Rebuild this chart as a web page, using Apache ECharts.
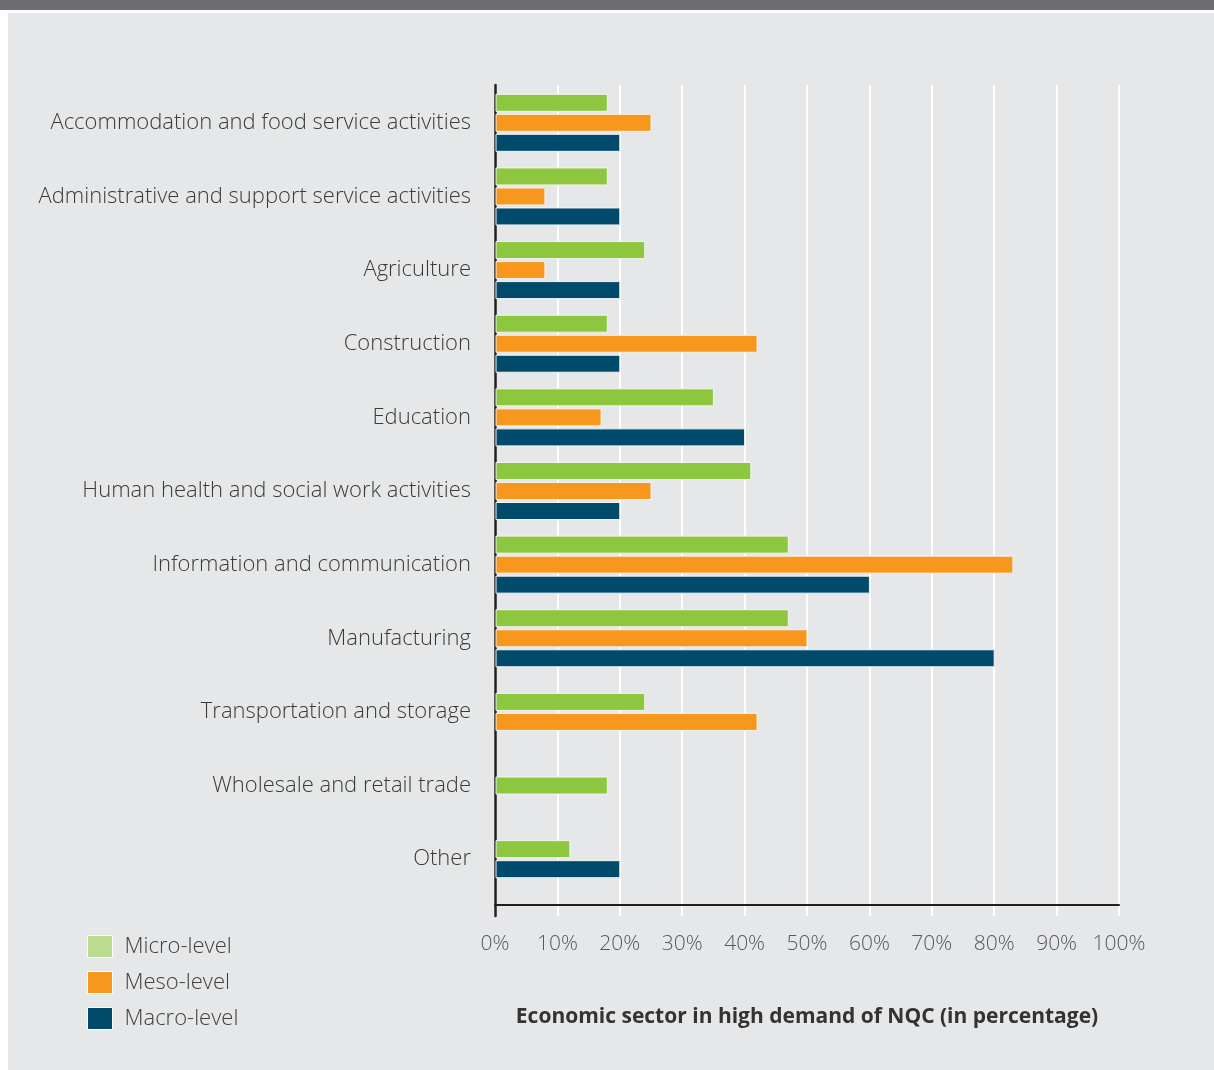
<!DOCTYPE html>
<html>
<head>
<meta charset="utf-8">
<script src="https://cdn.jsdelivr.net/npm/echarts@6/dist/echarts.min.js"></script>
<style>
  html, body { margin: 0; padding: 0; background: #ffffff; }
  #topbar { position: absolute; left: 0; top: 0; width: 1214px; height: 10px; background: #6b6d71; }
  #panel { position: absolute; left: 8px; top: 13px; width: 1206px; height: 1057px; background: #e6e7e8; }
  #chart { position: absolute; left: 0; top: 0; width: 1214px; height: 1070px; }
</style>
</head>
<body>
<div id="topbar"></div>
<div id="panel"></div>
<div id="chart"></div>
<script>
const categories = [
  'Accommodation and food service activities',
  'Administrative and support service activities',
  'Agriculture',
  'Construction',
  'Education',
  'Human health and social work activities',
  'Information and communication',
  'Manufacturing',
  'Transportation and storage',
  'Wholesale and retail trade',
  'Other'
];
const seriesNames = ['Micro-level', 'Meso-level', 'Macro-level'];
const microLevel = [18, 18, 24, 18, 35, 41, 47, 47, 24, 18, 12];
const mesoLevel  = [25, 8, 8, 42, 17, 25, 83, 50, 42, null, null];
const macroLevel = [20, 20, 20, 20, 40, 20, 60, 80, null, null, 20];
const xTickValues = [0, 10, 20, 30, 40, 50, 60, 70, 80, 90, 100];

const allSeries = [microLevel, mesoLevel, macroLevel];
const barColors = ['#8dc63f', '#f7971e', '#004b6c'];
const legendColors = ['#b9dc8f', '#f7971e', '#004b6c'];
const FONT = '"Open Sans", "Noto Sans", sans-serif';

const chart = echarts.init(document.getElementById('chart'), null, { renderer: 'canvas' });

function makeRender(sIdx) {
  return function (params, api) {
    const i = params.dataIndex;
    const v = allSeries[sIdx][i];
    if (v === null || v === undefined) return null;
    const present = [];
    for (let s = 0; s < allSeries.length; s++) {
      if (allSeries[s][i] !== null && allSeries[s][i] !== undefined) present.push(s);
    }
    const k = present.indexOf(sIdx);
    const n = present.length;
    const band = api.size([0, 1])[1];
    const pitch = band * 20 / 73.6;
    const h = band * 17 / 73.6;
    const start = api.coord([0, i]);
    const end = api.coord([v, i]);
    const cy = start[1] + (k - (n - 1) / 2) * pitch;
    return {
      type: 'rect',
      shape: { x: start[0] + 1, y: cy - h / 2, width: end[0] - start[0] - 1, height: h },
      style: { fill: barColors[sIdx], stroke: '#f4f4f0', lineWidth: 1 }
    };
  };
}

const customSeries = seriesNames.map((name, s) => ({
  name: name,
  type: 'custom',
  xAxisIndex: 0,
  yAxisIndex: 0,
  itemStyle: { color: barColors[s] },
  renderItem: makeRender(s),
  encode: { x: 0, y: 1 },
  data: allSeries[s].map((v, i) => [v === null ? 0 : v, i]),
  z: 3
}));

const option = {
  backgroundColor: 'transparent',
  animation: false,
  legend: {
    orient: 'vertical',
    left: 87,
    top: 935,
    padding: 0,
    icon: 'rect',
    itemWidth: 25,
    itemHeight: 22,
    itemGap: 13,
    itemStyle: { borderColor: '#ffffff', borderWidth: 1 },
    textStyle: { fontFamily: FONT, fontSize: 22, fontWeight: 300, color: '#404040', padding: [0, 0, 0, 7] },
    data: seriesNames.map((n, s) => ({ name: n, itemStyle: { color: legendColors[s] } })),
    selectedMode: false
  },
  grid: [
    { left: 495, right: 95, top: 86, height: 810 },
    { left: 495, right: 95, top: 85, bottom: 154 }
  ],
  xAxis: [
    {
      gridIndex: 0,
      type: 'value',
      min: 0, max: 100, interval: 10,
      offset: 9,
      axisLine: { show: true, lineStyle: { color: '#231f20', width: 2 } },
      axisTick: { show: false },
      splitLine: { show: false },
      axisLabel: {
        margin: 29,
        fontFamily: FONT, fontSize: 21, fontWeight: 300, color: '#58595b',
        formatter: function (v) { return xTickValues.indexOf(v) >= 0 ? v + '%' : ''; }
      },
      name: 'Economic sector in high demand of NQC (in percentage)',
      nameLocation: 'middle',
      nameGap: 102,
      nameTextStyle: { fontFamily: FONT, fontSize: 21, fontWeight: 'bold', color: '#333333' }
    },
    {
      gridIndex: 1,
      type: 'value',
      min: 0, max: 100, interval: 10,
      axisLine: { show: false },
      axisTick: { show: false },
      axisLabel: { show: false },
      splitLine: { show: true, lineStyle: { color: '#ffffff', width: 2 } }
    }
  ],
  yAxis: [
    {
      gridIndex: 0,
      type: 'category',
      data: categories,
      inverse: true,
      axisLine: { show: false },
      axisTick: { show: false },
      splitLine: { show: false },
      axisLabel: { margin: 24, fontFamily: FONT, fontSize: 22, fontWeight: 300, color: '#3a3a3a' }
    },
    {
      gridIndex: 1,
      type: 'value',
      min: 0, max: 1,
      axisLine: { show: true, lineStyle: { color: '#231f20', width: 2.5 } },
      axisTick: { show: false },
      axisLabel: { show: false },
      splitLine: { show: false }
    }
  ],
  series: customSeries
};

chart.setOption(option);
</script>
</body>
</html>
